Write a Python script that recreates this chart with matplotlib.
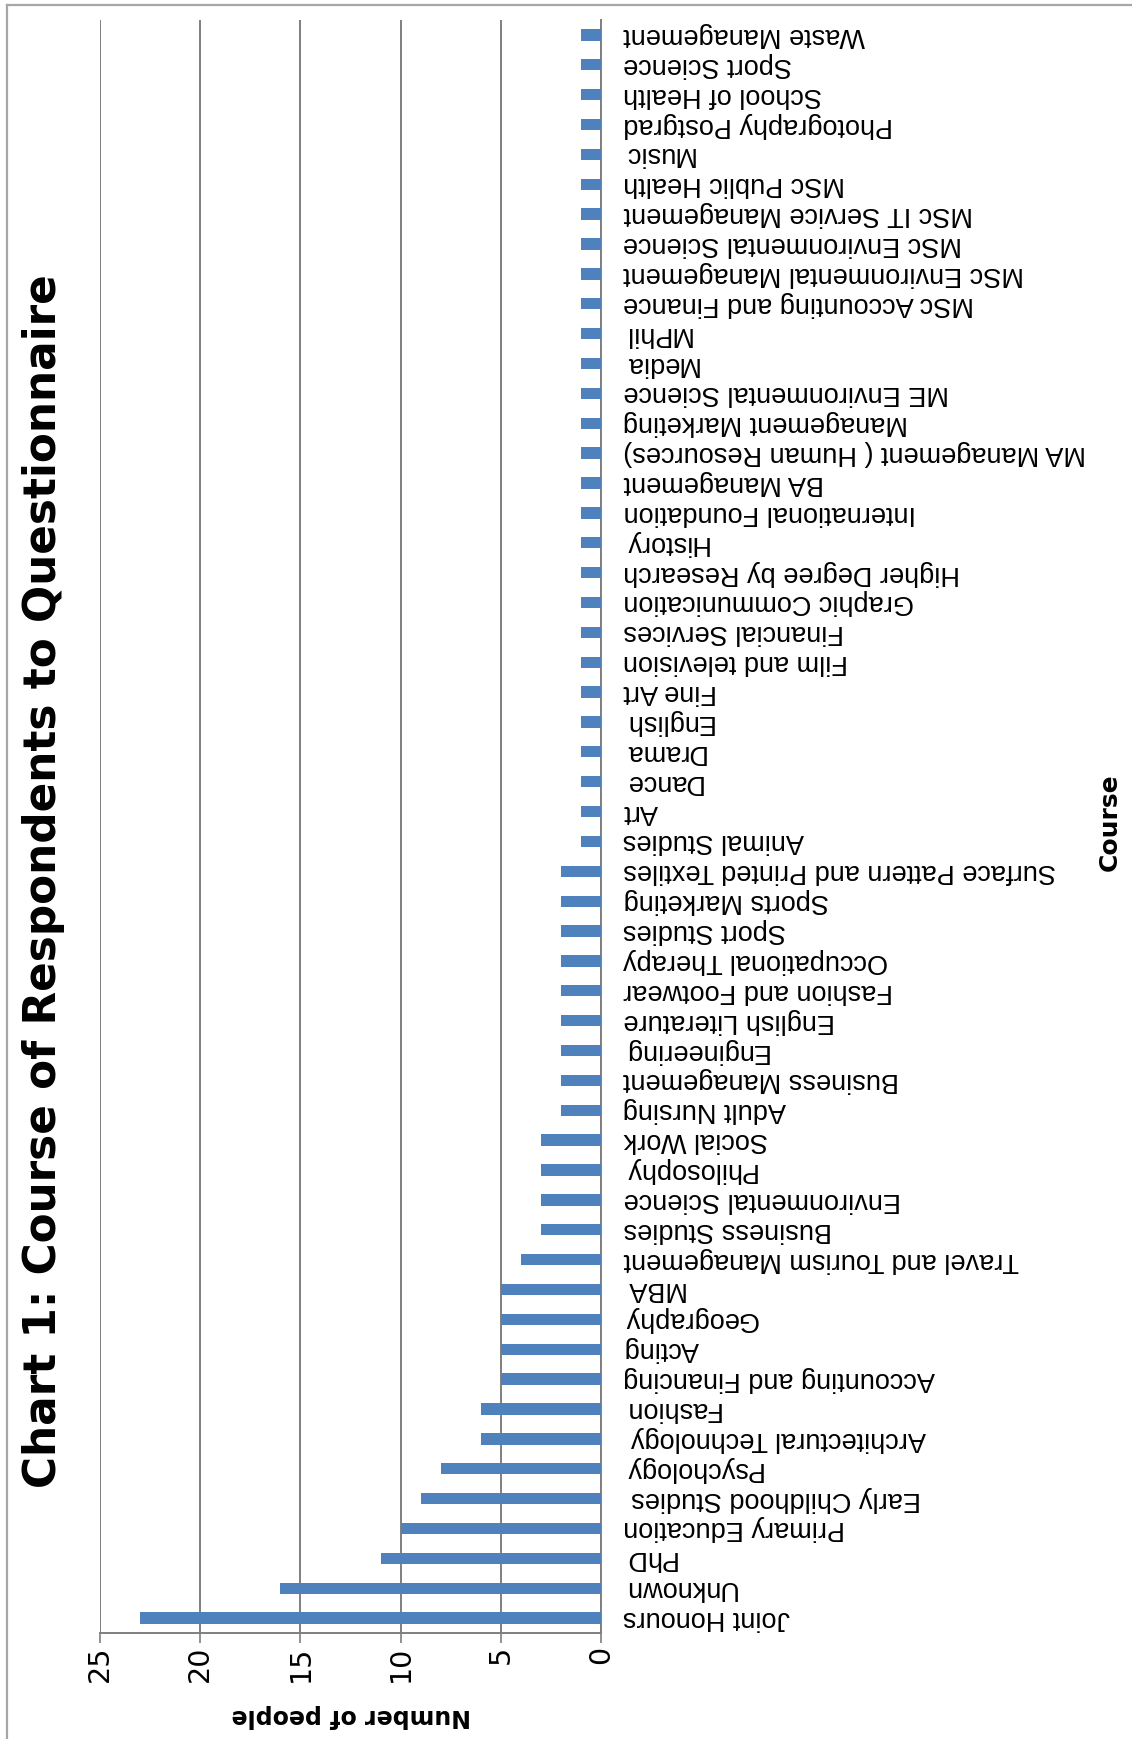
import numpy as np
import matplotlib
matplotlib.use("Agg")
import matplotlib.pyplot as plt

# courses, listed from the bottom bar upwards
courses = [
    "Joint Honours", "Unknown", "PhD", "Primary Education",
    "Early Childhood Studies ", "Psychology", "Architectural Technology ",
    "Fashion", "Accounting and Financing", "Acting", "Geography", "MBA ",
    "Travel and Tourism Management", "Business Studies",
    "Environmental Science", "Philosophy", "Social Work", "Adult Nursing",
    "Business Management", "Engineering", "English Literature",
    "Fashion and Footwear", "Occupational Therapy", "Sport Studies",
    "Sports Marketing", "Surface Pattern and Printed Textiles",
    "Animal Studies", "Art", "Dance", "Drama", "English", "Fine Art",
    "Film and television", "Financial Services", "Graphic Communication",
    "Higher Degree by Research", "History", "International Foundation",
    "BA Management", "MA Management ( Human Resources)",
    "Management Marketing", "ME Environmental Science", "Media", "MPhil",
    "MSc Accounting and Finance", "MSc Environmental Management",
    "MSc Environmental Science", "MSc IT Service Management",
    "MSc Public Health", "Music", "Photography Postgrad", "School of Health",
    "Sport Science", "Waste Management",
]
counts = [23, 16, 11, 10, 9, 8, 6, 6, 5, 5, 5, 5, 4, 3, 3, 3, 3,
          2, 2, 2, 2, 2, 2, 2, 2, 2,
          1, 1, 1, 1, 1, 1, 1, 1, 1, 1, 1, 1, 1, 1, 1, 1, 1, 1,
          1, 1, 1, 1, 1, 1, 1, 1, 1, 1]
value_ticks = [0, 5, 10, 15, 20, 25]

W, H = 1132, 1739
fig = plt.figure(figsize=(W / 100, H / 100), dpi=100)
fig.patch.set_facecolor("white")

# axes box in pixels: x 100..601, y 20..1633
ax = fig.add_axes([100 / W, 1 - 1633 / H, 501 / W, 1613 / H])

y = np.arange(len(courses))
ax.barh(y, counts, height=0.38, color="#4f81bd", zorder=3)

ax.set_xlim(25, 0)
ax.set_ylim(-0.5, len(courses) - 0.5)

ax.set_xticks(value_ticks)
ax.set_xticklabels([str(v) for v in value_ticks], rotation=90,
                   fontsize=20.5, family="DejaVu Sans")
ax.tick_params(axis="x", direction="out", length=7, width=1.2,
               color="#7f7f7f", pad=2)
ax.xaxis.grid(True, color="#7f7f7f", linewidth=1.4, zorder=0)

ax.yaxis.tick_right()
ax.set_yticks(y)
ax.set_yticklabels(courses, rotation=180, fontsize=19.5,
                   family="Liberation Sans", va="center")
ax.tick_params(axis="y", length=0, pad=16)

for side in ("top", "left"):
    ax.spines[side].set_visible(False)
for side in ("bottom", "right"):
    ax.spines[side].set_color("#7f7f7f")
    ax.spines[side].set_linewidth(1.4)

fig.text(44 / W, 1 - 881 / H, "Chart 1: Course of Respondents to Questionnaire",
         rotation=90, ha="center", va="center", fontsize=31.5,
         fontweight="bold", family="DejaVu Sans")
fig.text(351 / W, 1 - 1716 / H, "Number of people", rotation=180,
         ha="center", va="center", fontsize=17, fontweight="bold",
         family="DejaVu Sans")
fig.text(1110 / W, 1 - 822 / H, "Course", rotation=90,
         ha="center", va="center", fontsize=18, fontweight="bold",
         family="DejaVu Sans")

# outer frame, only the top and left edges remain
fig.add_artist(plt.Line2D([7 / W, 7 / W], [0, 1 - 5 / H],
                          transform=fig.transFigure, color="#a6a6a6", lw=1.6))
fig.add_artist(plt.Line2D([7 / W, 1], [1 - 5 / H, 1 - 5 / H],
                          transform=fig.transFigure, color="#a6a6a6", lw=1.6))

fig.savefig("out.png", dpi=100, facecolor="white")
